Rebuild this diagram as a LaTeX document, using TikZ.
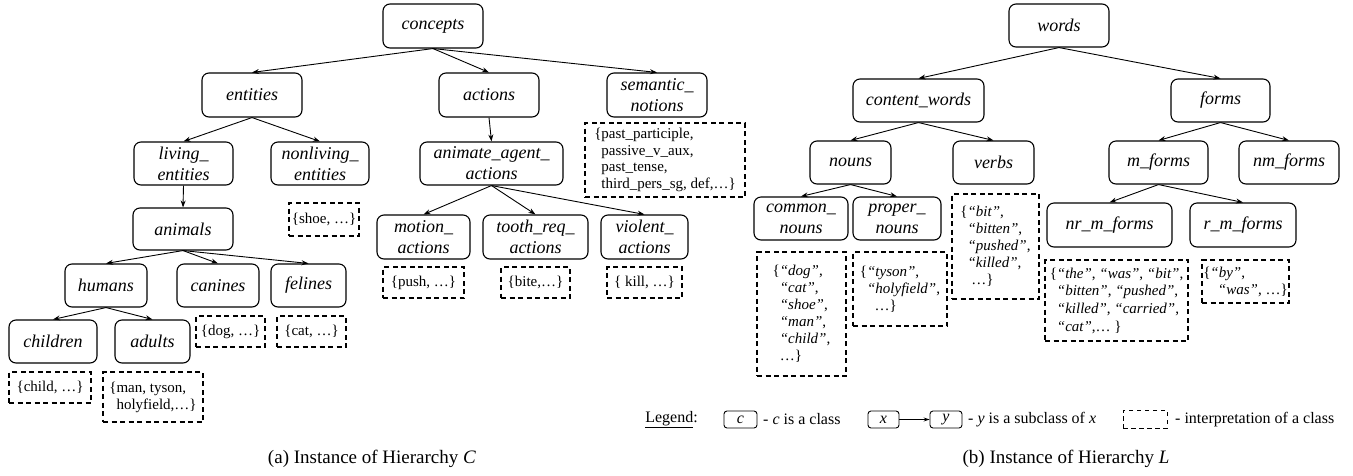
\documentclass[tikz,border=0pt]{standalone}
\usepackage{fontspec}
\setmainfont{Liberation Serif}
\usetikzlibrary{arrows.meta}
\newcommand\qw[1]{\textit{“#1”}}
\newcommand\ind{\phantom{\{}}
\begin{document}
\begin{tikzpicture}[x=1pt,y=-1pt,
 cls/.style={draw, line width=1.1pt, rounded corners=7pt, align=center, inner sep=0pt, font=\fontsize{18}{21}\selectfont\itshape},
 intp/.style={draw, line width=1.1pt, dash pattern=on 5pt off 3.5pt, align=left, inner sep=0pt, font=\fontsize{15}{17}\selectfont},
 arr/.style={-{Stealth[length=7pt,width=5pt]}, line width=0.9pt},
 wh/.style 2 args={minimum width=#1, minimum height=#2},
 lgcls/.style={draw, line width=0.9pt, rounded corners=3pt, inner sep=0pt, font=\fontsize{16}{18}\selectfont\itshape},
 lgtxt/.style={anchor=west, inner sep=0pt, font=\fontsize{16}{18}\selectfont},
 captxt/.style={inner sep=0pt, font=\fontsize{19}{22}\selectfont},
]
\useasboundingbox (0,0) rectangle (1353,475);

% ---------- Hierarchy C ----------
\node[cls, wh={100}{44}] (concepts) at (433,26) {concepts};
\node[cls, wh={100}{44}] (entities) at (252,95) {entities};
\node[cls, wh={100}{44}] (actions) at (489,95) {actions};
\node[cls, wh={100}{44}] (semantic) at (657,95) {semantic\_\\notions};
\node[cls, wh={99}{43}] (living) at (183.5,163.5) {living\_\\entities};
\node[cls, wh={98}{43}] (nonliving) at (320,163.5) {nonliving\_\\entities};
\node[cls, wh={143}{43}] (animate) at (491.5,163.5) {animate\_agent\_\\actions};
\node[cls, wh={100}{42}] (animals) at (183,229) {animals};
\node[cls, wh={82}{43}] (humans) at (106,285.5) {humans};
\node[cls, wh={82}{43}] (canines) at (218,285.5) {canines};
\node[cls, wh={75}{43}] (felines) at (308.5,285.5) {felines};
\node[cls, wh={88}{43}] (children) at (53,341.5) {children};
\node[cls, wh={75}{43}] (adults) at (152.5,341.5) {adults};
\node[cls, wh={93}{44}] (motion) at (423.5,237) {motion\_\\actions};
\node[cls, wh={105}{44}] (tooth) at (535.5,237) {tooth\_req\_\\actions};
\node[cls, wh={87}{44}] (violent) at (644.5,237) {violent\_\\actions};

\node[intp, wh={70}{33}] (ishoe) at (324,219.5) {\{shoe, …\}};
\node[intp, wh={69}{31}] (idog) at (230.5,331.5) {\{dog, …\}};
\node[intp, wh={69}{31}] (icat) at (311.5,331.5) {\{cat, …\}};
\node[intp, wh={82}{31}] (ichild) at (50,387.5) {\{child, …\}};
\node[intp, wh={100}{50}] (iman) at (153,397) {\{man, tyson,\\\ind holyfield,…\}};
\node[intp, wh={81}{31}] (ipush) at (423.5,282.5) {\{push, …\}};
\node[intp, wh={69}{31}] (ibite) at (535.5,282.5) {\{bite,…\}};
\node[intp, wh={75}{31}] (ikill) at (644.5,282.5) {\{ kill, …\}};
\node[intp, wh={160}{74}, font=\fontsize{15}{16.5}\selectfont] (isem) at (665,160) {\{past\_participle,\\\ind passive\_v\_aux,\\\ind past\_tense,\\\ind third\_pers\_sg, def,…\}};

\foreach \a/\b in {concepts/entities, concepts/actions, concepts/semantic,
  entities/living, entities/nonliving, living/animals,
  animals/humans, animals/canines, animals/felines,
  humans/children, humans/adults, actions/animate,
  animate/motion, animate/tooth, animate/violent}
  \draw[arr] (\a.south) -- (\b.north);

% ---------- Hierarchy L ----------
\node[cls, wh={100}{43}] (words) at (1059,25.5) {words};
\node[cls, wh={131}{43}] (content) at (918.5,100.5) {content\_words};
\node[cls, wh={99}{43}] (forms) at (1220.5,100.5) {forms};
\node[cls, wh={81}{43}] (nouns) at (850.5,162.5) {nouns};
\node[cls, wh={81}{43}] (verbs) at (993.5,162.5) {verbs};
\node[cls, wh={99}{43}] (mforms) at (1158.5,162.5) {m\_forms};
\node[cls, wh={100}{43}] (nmforms) at (1289,162.5) {nm\_forms};
\node[cls, wh={94}{43}] (common) at (801,218.5) {common\_\\nouns};
\node[cls, wh={88}{43}] (proper) at (897,218.5) {proper\_\\nouns};
\node[cls, wh={125}{44}] (nrm) at (1109.5,225) {nr\_m\_forms};
\node[cls, wh={106}{44}] (rm) at (1243,225) {r\_m\_forms};

\node[intp, wh={89}{124}] (icommon) at (801.5,314) {\{\qw{dog},\\\ind\qw{cat},\\\ind\qw{shoe},\\\ind\qw{man},\\\ind\qw{child},\\\ind …\}};
\node[intp, wh={94}{74}] (iproper) at (900,289) {\{\qw{tyson},\\\ind\qw{holyfield},\\\ind\ \ …\}};
\node[intp, wh={87}{105}] (iverbs) at (995.5,246.5) {\{\qw{bit},\\\ind\qw{bitten},\\\ind\qw{pushed},\\\ind\qw{killed},\\\ind\ …\}};
\node[intp, wh={143}{81}, font=\fontsize{15}{17.7}\selectfont] (inrm) at (1116.5,300.5) {\{\qw{the}, \qw{was}, \qw{bit},\\\ind\qw{bitten}, \qw{pushed},\\\ind\qw{killed}, \qw{carried},\\\ind\qw{cat},… \}};
\node[intp, wh={87}{43}] (irm) at (1245.5,281.5) {\{\qw{by},\\\ind\ \ \qw{was}, …\}};

\foreach \a/\b in {words/content, words/forms, content/nouns, content/verbs,
  forms/mforms, forms/nmforms, nouns/common, nouns/proper,
  mforms/nrm, mforms/rm}
  \draw[arr] (\a.south) -- (\b.north);

% ---------- Legend ----------
\node[lgtxt, anchor=center] (lglabel) at (671.5,419.5) {\underline{Legend}:};
\node[lgcls, wh={33}{17}] (lgc) at (740.5,419.5) {c};
\node[lgtxt] (lgctxt) at (763,419.5) {- \textit{c} is a class};
\node[lgcls, wh={31}{17}] (lgx) at (883.5,419.5) {x};
\node[lgcls, wh={32}{17}] (lgy) at (946,419.5) {y};
\draw[-{Stealth[length=6pt,width=4pt]}, line width=0.9pt] (lgx.east) -- (lgy.west);
\node[lgtxt] (lgytxt) at (968,419.5) {- \textit{y} is a subclass of \textit{x}};
\node[draw, line width=0.9pt, dash pattern=on 4.5pt off 3.5pt, inner sep=0pt, wh={44}{18}] (lgi) at (1145,419) {};
\node[lgtxt] (lgitxt) at (1175,419.5) {- interpretation of a class};

% ---------- Captions ----------
\node[captxt] (capa) at (372,459) {(a) Instance of Hierarchy \textit{C}};
\node[captxt] (capb) at (1066,459) {(b) Instance of Hierarchy \textit{L}};
\end{tikzpicture}
\end{document}
